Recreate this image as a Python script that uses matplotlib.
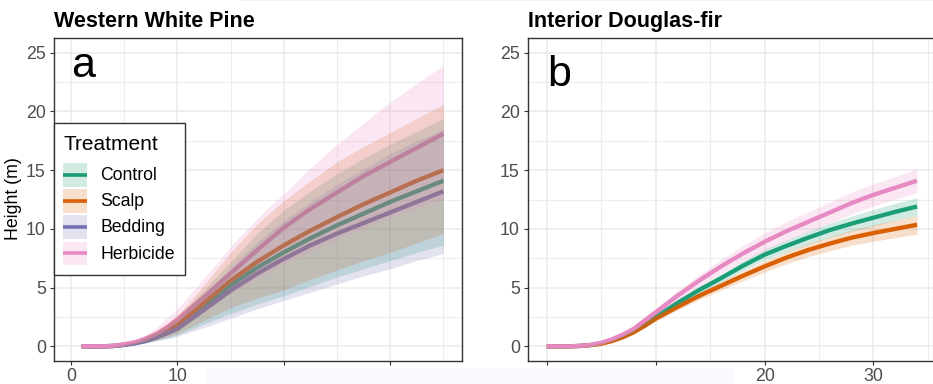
import matplotlib
matplotlib.use("Agg")
import matplotlib.pyplot as plt
from matplotlib.patches import Rectangle
from matplotlib.lines import Line2D
from matplotlib.ticker import MultipleLocator

plt.rcParams['font.family'] = ['Liberation Sans', 'DejaVu Sans']

# ---- data -------------------------------------------------------------
treatments = ["Control", "Scalp", "Bedding", "Herbicide"]
colors = {"Control": "#1B9E77", "Scalp": "#D95F02",
          "Bedding": "#7570B3", "Herbicide": "#E78AC3"}

# Western White Pine (age, years)
pine_age = [1, 2, 3, 4, 5, 6, 7, 8, 9, 10, 12.5, 15, 17.5, 20, 22.5, 25, 27.5, 30, 32.5, 35]
pine_control = [0, 0, 0, 0.03, 0.13, 0.28, 0.5, 0.85, 1.2, 1.65, 3.4, 5.2, 6.7, 8.0, 9.2, 10.3, 11.3, 12.3, 13.2, 14.1]
pine_control_hi = [0, 0, 0, 0.05, 0.18, 0.38, 0.75, 1.2, 1.75, 2.4, 4.8, 7.2, 9.6, 11.6, 13.2, 14.7, 16.0, 17.2, 18.3, 19.4]
pine_control_lo = [0, 0, 0, 0.02, 0.08, 0.17, 0.3, 0.5, 0.7, 0.95, 1.9, 2.8, 3.6, 4.3, 5.1, 5.9, 6.6, 7.3, 8.0, 8.6]
pine_scalp = [0, 0, 0, 0.03, 0.15, 0.3, 0.55, 0.9, 1.3, 1.8, 3.7, 5.6, 7.2, 8.6, 9.85, 11.0, 12.1, 13.1, 14.1, 15.0]
pine_scalp_hi = [0, 0, 0, 0.05, 0.2, 0.4, 0.8, 1.3, 1.9, 2.6, 5.2, 8.0, 10.4, 12.4, 14.1, 15.7, 17.0, 18.2, 19.4, 20.6]
pine_scalp_lo = [0, 0, 0, 0.02, 0.1, 0.2, 0.35, 0.55, 0.8, 1.1, 2.2, 3.3, 4.1, 4.8, 5.7, 6.5, 7.3, 8.0, 8.8, 9.6]
pine_bedding = [0, 0, 0, 0.03, 0.12, 0.25, 0.45, 0.75, 1.1, 1.5, 3.1, 4.75, 6.2, 7.45, 8.6, 9.6, 10.5, 11.4, 12.3, 13.2]
pine_bedding_hi = [0, 0, 0, 0.05, 0.16, 0.35, 0.7, 1.1, 1.6, 2.2, 4.4, 6.7, 8.9, 10.7, 12.3, 13.8, 15.1, 16.4, 17.5, 18.5]
pine_bedding_lo = [0, 0, 0, 0.02, 0.07, 0.15, 0.27, 0.45, 0.65, 0.85, 1.6, 2.4, 3.2, 3.9, 4.6, 5.3, 6.0, 6.6, 7.3, 7.9]
pine_herbicide = [0, 0, 0, 0.05, 0.18, 0.35, 0.65, 1.05, 1.6, 2.3, 4.2, 6.2, 8.2, 10.1, 11.7, 13.1, 14.5, 15.7, 16.9, 18.1]
pine_herbicide_hi = [0, 0, 0, 0.08, 0.25, 0.5, 0.95, 1.6, 2.4, 3.2, 5.8, 8.5, 10.9, 13.0, 15.2, 17.2, 19.0, 20.8, 22.4, 23.9]
pine_herbicide_lo = [0, 0, 0, 0.03, 0.12, 0.25, 0.42, 0.7, 1.0, 1.45, 2.9, 4.5, 5.8, 7.0, 8.1, 9.15, 10.1, 11.0, 11.8, 12.55]

# Interior Douglas-fir
fir_age = [0, 1, 2, 3, 4, 5, 6, 7, 8, 9, 10, 12, 14, 16, 18, 20, 22, 24, 26, 28, 30, 32, 34]
fir_control = [0, 0, 0, 0.03, 0.1, 0.25, 0.5, 0.85, 1.3, 1.85, 2.5, 3.7, 4.8, 5.8, 6.85, 7.8, 8.55, 9.25, 9.9, 10.45, 10.95, 11.45, 11.9]
fir_control_hi = [0, 0, 0, 0.04, 0.13, 0.3, 0.58, 0.95, 1.43, 2.0, 2.7, 3.95, 5.1, 6.15, 7.25, 8.25, 9.05, 9.8, 10.5, 11.1, 11.65, 12.18, 12.65]
fir_control_lo = [0, 0, 0, 0.02, 0.07, 0.2, 0.42, 0.75, 1.17, 1.7, 2.3, 3.45, 4.5, 5.45, 6.45, 7.35, 8.05, 8.7, 9.3, 9.8, 10.25, 10.72, 11.15]
fir_scalp = [0, 0, 0, 0.03, 0.1, 0.22, 0.45, 0.78, 1.2, 1.75, 2.35, 3.35, 4.3, 5.15, 6.0, 6.8, 7.55, 8.2, 8.75, 9.25, 9.65, 10.0, 10.35]
fir_scalp_hi = [0, 0, 0, 0.04, 0.13, 0.28, 0.53, 0.88, 1.33, 1.9, 2.55, 3.62, 4.62, 5.52, 6.42, 7.27, 8.07, 8.77, 9.35, 9.9, 10.35, 10.75, 11.15]
fir_scalp_lo = [0, 0, 0, 0.02, 0.07, 0.16, 0.37, 0.68, 1.07, 1.6, 2.15, 3.08, 3.98, 4.78, 5.58, 6.33, 7.03, 7.63, 8.15, 8.6, 8.95, 9.25, 9.55]
fir_herbicide = [0, 0, 0, 0.03, 0.12, 0.3, 0.6, 1.0, 1.5, 2.2, 2.9, 4.3, 5.6, 6.8, 7.9, 8.9, 9.8, 10.6, 11.4, 12.2, 12.9, 13.5, 14.1]
fir_herbicide_hi = [0, 0, 0, 0.05, 0.17, 0.38, 0.72, 1.15, 1.7, 2.45, 3.2, 4.7, 6.1, 7.4, 8.58, 9.65, 10.6, 11.45, 12.3, 13.12, 13.85, 14.47, 15.1]
fir_herbicide_lo = [0, 0, 0, 0.01, 0.07, 0.22, 0.48, 0.85, 1.3, 1.95, 2.6, 3.9, 5.1, 6.2, 7.22, 8.15, 9.0, 9.75, 10.5, 11.28, 11.95, 12.53, 13.1]

pine = {
    "Control": (pine_control, pine_control_lo, pine_control_hi),
    "Scalp": (pine_scalp, pine_scalp_lo, pine_scalp_hi),
    "Bedding": (pine_bedding, pine_bedding_lo, pine_bedding_hi),
    "Herbicide": (pine_herbicide, pine_herbicide_lo, pine_herbicide_hi),
}
fir = {
    "Control": (fir_control, fir_control_lo, fir_control_hi),
    "Scalp": (fir_scalp, fir_scalp_lo, fir_scalp_hi),
    "Herbicide": (fir_herbicide, fir_herbicide_lo, fir_herbicide_hi),
}

# ---- figure in pixel units --------------------------------------------
W, H = 933, 384
fig = plt.figure(figsize=(W / 100, H / 100), dpi=100)
fig.patch.set_facecolor("white")


def px_axes(x0, x1, y0, y1):
    return fig.add_axes([x0 / W, 1 - y1 / H, (x1 - x0) / W, (y1 - y0) / H])


def style(ax, xlim):
    ax.set_xlim(*xlim)
    ax.set_ylim(-1.25, 26.25)
    ax.xaxis.set_major_locator(MultipleLocator(10))
    ax.xaxis.set_minor_locator(MultipleLocator(5))
    ax.yaxis.set_major_locator(MultipleLocator(5))
    ax.yaxis.set_minor_locator(MultipleLocator(2.5))
    ax.grid(which="major", color="#EBEBEB", lw=1.1)
    ax.grid(which="minor", color="#EDEDED", lw=0.8)
    ax.set_axisbelow(True)
    for s in ax.spines.values():
        s.set_color("#333333")
        s.set_linewidth(1.0)
    ax.tick_params(which="major", length=2.9, width=0.8, color="#333333",
                   labelcolor="#4D4D4D", labelsize=12.8, pad=3)
    ax.tick_params(axis="x", which="major", pad=1.8)
    ax.tick_params(which="minor", length=0)


def draw(ax, age, data):
    # lines first, translucent bands laid over them
    for t in treatments:
        if t in data:
            y, lo, hi = data[t]
            ax.plot(age, y, color=colors[t], lw=3.1, zorder=2,
                    solid_capstyle="butt")
    for t in treatments:
        if t in data:
            y, lo, hi = data[t]
            ax.fill_between(age, lo, hi, color=colors[t], alpha=0.2,
                            lw=0, zorder=3)


ax1 = px_axes(54, 462, 38, 361)
style(ax1, (-1.6, 36.75))
draw(ax1, pine_age, pine)
ax1.text(1.17, 22.9, "a", fontsize=31, ha="center", va="baseline", zorder=5)

ax2 = px_axes(528, 947, 38, 361)
style(ax2, (-1.72, 36.75))
draw(ax2, fir_age, fir)
ax2.text(1.13, 22.2, "b", fontsize=31, ha="center", va="baseline", zorder=5)

# ---- overlay: titles, axis title, legend -------------------------------
ov = fig.add_axes([0, 0, 1, 1])
ov.set_xlim(0, W)
ov.set_ylim(H, 0)
ov.axis("off")
ov.patch.set_visible(False)
ov.set_zorder(10)

ov.text(54, 27, "Western White Pine", fontsize=15.5, fontweight="bold",
        ha="left", va="baseline")
ov.text(528, 27, "Interior Douglas-fir", fontsize=15.5, fontweight="bold",
        ha="left", va="baseline")
ov.text(13, 199, "Height (m)", fontsize=12.8, rotation=90,
        ha="center", va="center")

ov.add_patch(Rectangle((54, 122.7), 131, 152.3, facecolor="white",
                       edgecolor="#333333", lw=1.0))
ov.text(63.3, 150, "Treatment", fontsize=15, ha="left", va="baseline")
key_tops = [163.3, 189.3, 215.3, 241.7]
for t, ky in zip(treatments, key_tops):
    ov.add_patch(Rectangle((63.3, ky), 23.4, 23.4, facecolor=colors[t],
                           alpha=0.2, lw=0))
    ov.add_line(Line2D([63.3, 86.7], [ky + 11.7, ky + 11.7], color=colors[t],
                       lw=2.6, solid_capstyle="butt"))
    ov.text(100, ky + 12.5, t, fontsize=12.7, ha="left", va="center")

# pale bands along the edges
ov.add_patch(Rectangle((206, 368), 528, 16, facecolor="#F7F9FE", lw=0))
ov.add_patch(Rectangle((240, 0), 693, 1.2, facecolor="#F1F2F4", lw=0))

fig.savefig("out.png", dpi=100)
